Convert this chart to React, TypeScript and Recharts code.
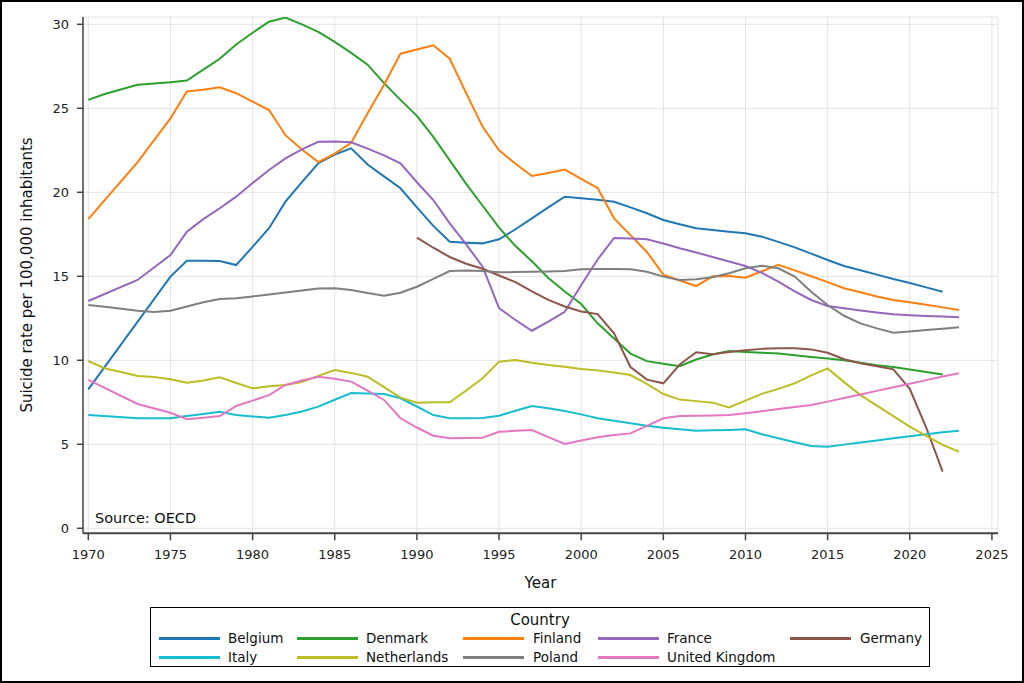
import React from 'react';
import { LineChart, Line, XAxis, YAxis, CartesianGrid, Legend, Customized } from 'recharts';

const years = [
  1970, 1971, 1972, 1973, 1974, 1975, 1976, 1977, 1978, 1979,
  1980, 1981, 1982, 1983, 1984, 1985, 1986, 1987, 1988, 1989,
  1990, 1991, 1992, 1993, 1994, 1995, 1996, 1997, 1998, 1999,
  2000, 2001, 2002, 2003, 2004, 2005, 2006, 2007, 2008, 2009,
  2010, 2011, 2012, 2013, 2014, 2015, 2016, 2017, 2018, 2019,
  2020, 2021, 2022, 2023,
];

const belgium = [
  8.27, null, null, null, null, 14.98, 15.93, 15.93, 15.91, 15.67,
  16.75, 17.86, 19.44, 20.6, 21.73, 22.25, 22.62, 21.65, 20.95, 20.24,
  19.1, 18.0, 17.06, 17.0, 16.96, 17.2, 17.8, 18.45, 19.1, 19.74,
  19.65, 19.55, 19.44, 19.1, 18.75, 18.35, 18.1, 17.86, 17.75, 17.65,
  17.56, 17.36, 17.05, 16.72, 16.35, 15.97, 15.61, 15.36, 15.1, 14.84,
  14.6, 14.34, 14.08, null,
];

const denmark = [
  25.5, 25.85, null, 26.4, null, 26.55, 26.65, 27.3, 27.95, 28.8,
  29.5, 30.15, 30.4, 30.0, 29.55, 28.95, 28.3, 27.6, 26.5, 25.5,
  24.55, 23.3, 21.9, 20.5, 19.2, 17.9, 16.8, 15.9, 14.9, 14.1,
  13.35, 12.2, 11.3, 10.4, 9.95, 9.8, 9.65, 10.05, 10.35, 10.55,
  10.5, 10.45, 10.4, 10.3, 10.2, 10.1, 10.0, 9.85, 9.7, 9.6,
  9.45, 9.3, 9.15, null,
];

const finland = [
  18.4, null, null, 21.8, null, 24.4, 26.0, 26.1, 26.25, 25.9,
  25.4, 24.9, 23.4, 22.55, 21.8, 22.3, 22.95, 24.7, 26.4, 28.25,
  28.5, 28.75, 27.95, 25.9, 23.9, 22.5, 21.7, 20.97, 21.15, 21.35,
  20.8, 20.25, 18.45, 17.45, 16.45, 15.1, 14.75, 14.42, 15.0, 15.02,
  14.92, 15.3, 15.68, 15.35, 15.0, 14.65, 14.29, 14.05, 13.8, 13.59,
  13.45, 13.3, 13.15, 13.0,
];

const france = [
  13.53, null, null, 14.78, null, 16.27, 17.65, 18.4, 19.05, 19.74,
  20.55, 21.33, 22.02, 22.55, 23.01, 23.02, 22.98, 22.6, 22.2, 21.73,
  20.6, 19.54, 18.15, 16.9, 15.57, 13.1, 12.4, 11.76, 12.3, 12.89,
  14.48, 16.0, 17.28, 17.25, 17.2, 16.95, 16.67, 16.42, 16.15, 15.88,
  15.61, 15.2, 14.68, 14.1, 13.59, 13.23, 13.1, 12.97, 12.85, 12.74,
  12.68, 12.63, 12.6, 12.56,
];

const germany = [
  null, null, null, null, null, null, null, null, null, null,
  null, null, null, null, null, null, null, null, null, null,
  17.3, 16.7, 16.15, 15.75, 15.45, 15.05, 14.65, 14.1, 13.6, 13.2,
  12.9, 12.75, 11.6, 9.6, 8.85, 8.63, 9.75, 10.48, 10.36, 10.5,
  10.6, 10.68, 10.72, 10.72, 10.65, 10.45, 10.06, 9.82, 9.65, 9.46,
  8.3, 6.0, 3.37, null,
];

const italy = [
  6.74, null, null, 6.55, null, 6.55, 6.68, 6.8, 6.94, 6.74,
  6.66, 6.58, 6.74, 6.95, 7.24, 7.65, 8.05, 8.02, 7.99, 7.74,
  7.25, 6.74, 6.55, 6.55, 6.56, 6.7, 7.0, 7.28, 7.15, 6.98,
  6.78, 6.55, 6.4, 6.25, 6.1, 5.99, 5.9, 5.81, 5.83, 5.85,
  5.89, 5.6, 5.36, 5.12, 4.9, 4.86, 4.98, 5.1, 5.23, 5.36,
  5.48, 5.6, 5.72, 5.81,
];

const netherlands = [
  9.96, 9.52, 9.3, 9.07, 9.0, 8.87, 8.67, 8.8, 8.99, 8.65,
  8.33, 8.45, 8.53, 8.7, 9.07, 9.42, 9.25, 9.02, 8.4, 7.78,
  7.48, 7.5, 7.5, 8.2, 8.93, 9.92, 10.02, 9.85, 9.72, 9.62,
  9.48, 9.4, 9.28, 9.12, 8.6, 7.99, 7.66, 7.57, 7.48, 7.2,
  7.6, 8.0, 8.3, 8.63, 9.1, 9.52, 8.7, 7.93, 7.3, 6.68,
  6.05, 5.5, 4.96, 4.56,
];

const poland = [
  13.29, 13.19, 13.07, 12.95, 12.87, 12.95, 13.2, 13.45, 13.65, 13.69,
  13.8, 13.92, 14.03, 14.15, 14.27, 14.29, 14.18, 14.0, 13.85, 14.02,
  14.38, 14.85, 15.31, 15.35, 15.31, 15.24, 15.25, 15.27, 15.29, 15.31,
  15.42, 15.43, 15.43, 15.42, 15.27, 14.98, 14.78, 14.82, 14.95, 15.18,
  15.48, 15.63, 15.48, 14.98, 14.08, 13.29, 12.65, 12.2, 11.9, 11.64,
  11.72, 11.8, 11.88, 11.96,
];

const unitedKingdom = [
  8.83, null, null, 7.4, null, 6.88, 6.49, 6.58, 6.68, 7.28,
  7.6, 7.93, 8.53, 8.8, 9.02, 8.9, 8.73, 8.2, 7.64, 6.55,
  6.0, 5.51, 5.36, 5.37, 5.39, 5.75, 5.8, 5.85, 5.43, 5.02,
  5.22, 5.42, 5.55, 5.65, 6.1, 6.55, 6.68, 6.7, 6.72, 6.74,
  6.85, 6.97, 7.1, 7.22, 7.34, 7.54, 7.75, 7.96, 8.18, 8.4,
  8.6, 8.82, 9.03, 9.23,
];

const xTicks = [1970, 1975, 1980, 1985, 1990, 1995, 2000, 2005, 2010, 2015, 2020, 2025];
const yTicks = [0, 5, 10, 15, 20, 25, 30];

const series = [
  { key: 'Belgium', values: belgium, color: '#1f77b4' },
  { key: 'Denmark', values: denmark, color: '#2ca02c' },
  { key: 'Finland', values: finland, color: '#ff7f0e' },
  { key: 'France', values: france, color: '#9467bd' },
  { key: 'Germany', values: germany, color: '#8c564b' },
  { key: 'Italy', values: italy, color: '#17becf' },
  { key: 'Netherlands', values: netherlands, color: '#bcbd22' },
  { key: 'Poland', values: poland, color: '#7f7f7f' },
  { key: 'United Kingdom', values: unitedKingdom, color: '#e377c2' },
];

const data = years.map((year, i) => {
  const row: Record<string, number | null> = { year };
  series.forEach((s) => {
    row[s.key] = s.values[i];
  });
  return row;
});

const FONT = 'DejaVu Sans';

const legendCols = [
  { sx: 8, tx: 77 },
  { sx: 146, tx: 215 },
  { sx: 312, tx: 382 },
  { sx: 447, tx: 516 },
  { sx: 639, tx: 709 },
];
const legendRowCenters = [30, 49];

const LegendBox = () => (
  <div
    style={{
      position: 'relative',
      width: 780,
      height: 60,
      border: '1px solid #000',
      boxSizing: 'border-box',
      fontFamily: FONT,
      color: '#111',
      background: '#fff',
    }}
  >
    <div
      style={{
        position: 'absolute',
        left: 0,
        right: 0,
        top: 3,
        textAlign: 'center',
        fontSize: 15,
        lineHeight: '18px',
      }}
    >
      Country
    </div>
    {series.map((s, i) => {
      const row = i < 5 ? 0 : 1;
      const col = i < 5 ? i : i - 5;
      const cy = legendRowCenters[row];
      const c = legendCols[col];
      return (
        <React.Fragment key={s.key}>
          <div
            style={{
              position: 'absolute',
              left: c.sx,
              top: cy - 1.5,
              width: 61,
              height: 3,
              background: s.color,
            }}
          />
          <div
            style={{
              position: 'absolute',
              left: c.tx,
              top: cy - 9,
              fontSize: 13.5,
              lineHeight: '18px',
              whiteSpace: 'nowrap',
            }}
          >
            {s.key}
          </div>
        </React.Fragment>
      );
    })}
  </div>
);

const SourceNote = () => (
  <text x={95} y={523} fontFamily={FONT} fontSize={14.5} fill="#111">
    Source: OECD
  </text>
);

export default function App() {
  return (
    <div
      style={{
        position: 'absolute',
        left: 0,
        top: 0,
        width: 1024,
        height: 683,
        background: '#fff',
        fontFamily: FONT,
      }}
    >
      <LineChart
        width={1024}
        height={683}
        data={data}
        margin={{ top: 17, right: 26, bottom: 119.7, left: 0 }}
      >
        <CartesianGrid stroke="#e3e3e3" strokeWidth={1} />
        <XAxis
          dataKey="year"
          type="number"
          domain={[1969.677, 2025.37]}
          allowDataOverflow
          ticks={xTicks}
          interval={0}
          height={30}
          tickSize={7}
          tickMargin={9}
          axisLine={{ stroke: '#444', strokeWidth: 2 }}
          tickLine={{ stroke: '#444', strokeWidth: 1.5 }}
          tick={{ fill: '#222', fontSize: 13, fontFamily: FONT }}
          label={{
            content: () => (
              <text x={540.5} y={588} textAnchor="middle" fontFamily={FONT} fontSize={15} fill="#111">
                Year
              </text>
            ),
          }}
        />
        <YAxis
          type="number"
          domain={[-0.298, 30.435]}
          allowDataOverflow
          ticks={yTicks}
          interval={0}
          width={83}
          tickSize={6}
          tickMargin={8}
          axisLine={{ stroke: '#444', strokeWidth: 1.5 }}
          tickLine={{ stroke: '#444', strokeWidth: 1.5 }}
          tick={{ fill: '#222', fontSize: 13, fontFamily: FONT }}
          label={{
            content: () => (
              <text
                transform="translate(32,275) rotate(-90)"
                textAnchor="middle"
                fontFamily={FONT}
                fontSize={15}
                fill="#111"
              >
                Suicide rate per 100,000 inhabitants
              </text>
            ),
          }}
        />
        {series.map((s) => (
          <Line
            key={s.key}
            type="linear"
            dataKey={s.key}
            stroke={s.color}
            strokeWidth={2}
            dot={false}
            activeDot={false}
            connectNulls
            isAnimationActive={false}
          />
        ))}
        <Customized component={SourceNote} />
        <Legend
          layout="horizontal"
          verticalAlign="middle"
          align="center"
          content={() => <LegendBox />}
          wrapperStyle={{ position: 'absolute', left: 150, top: 607, width: 780, height: 60 }}
        />
      </LineChart>
      <div
        style={{
          position: 'absolute',
          left: 0,
          top: 0,
          width: 1024,
          height: 683,
          border: '2px solid #000',
          boxSizing: 'border-box',
          pointerEvents: 'none',
        }}
      />
    </div>
  );
}
